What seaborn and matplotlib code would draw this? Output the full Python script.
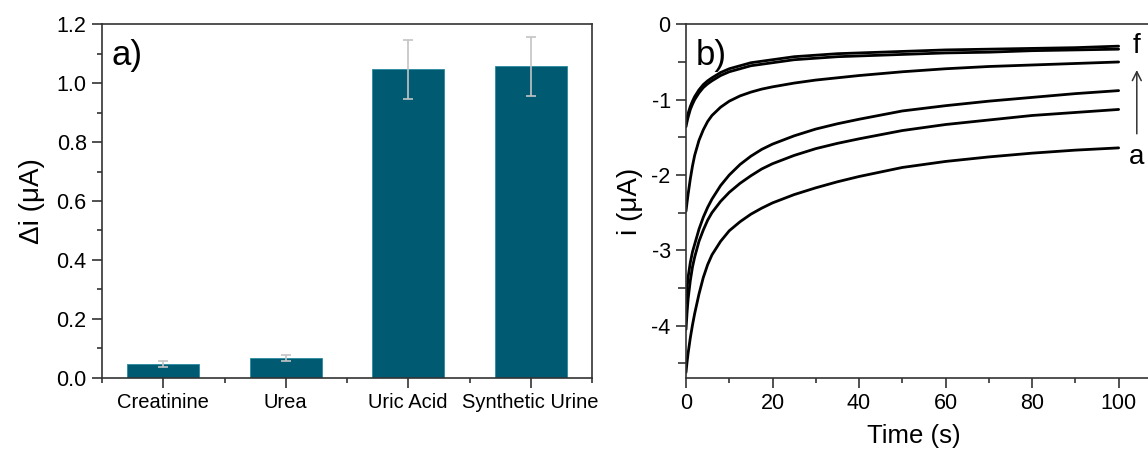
import numpy as np
import pandas as pd
import matplotlib
matplotlib.use("Agg")
import matplotlib.pyplot as plt
from matplotlib.ticker import MultipleLocator, FixedLocator
import seaborn as sns

# ---------------- data ----------------
categories = ["Creatinine", "Urea", "Uric Acid", "Synthetic Urine"]
delta_i = [0.048, 0.067, 1.048, 1.058]
delta_err = [0.010, 0.010, 0.100, 0.100]

time_s = [0, 0.25, 0.5, 1, 1.5, 2, 3, 4, 5, 6, 8, 10, 12.5, 15, 17.5, 20,
          25, 30, 35, 40, 50, 60, 70, 80, 90, 100]
curve_a = [-4.62, -4.48, -4.36, -4.16, -3.99, -3.84, -3.58, -3.36, -3.19, -3.06,
           -2.88, -2.74, -2.62, -2.52, -2.44, -2.37, -2.26, -2.17, -2.09, -2.02,
           -1.90, -1.82, -1.76, -1.71, -1.67, -1.64]
curve_b = [-4.05, -3.82, -3.64, -3.40, -3.22, -3.09, -2.88, -2.73, -2.60, -2.50,
           -2.35, -2.23, -2.11, -2.01, -1.92, -1.85, -1.74, -1.65, -1.58, -1.52,
           -1.41, -1.33, -1.27, -1.21, -1.17, -1.13]
curve_c = [-3.70, -3.50, -3.35, -3.16, -3.02, -2.92, -2.72, -2.56, -2.43, -2.32,
           -2.14, -2.00, -1.86, -1.75, -1.66, -1.59, -1.48, -1.39, -1.32, -1.26,
           -1.15, -1.08, -1.02, -0.97, -0.92, -0.88]
curve_d = [-2.48, -2.36, -2.25, -2.05, -1.88, -1.74, -1.54, -1.40, -1.29, -1.21,
           -1.10, -1.02, -0.95, -0.90, -0.86, -0.83, -0.78, -0.74, -0.71, -0.68,
           -0.63, -0.59, -0.56, -0.54, -0.52, -0.50]
curve_e = [-1.36, -1.29, -1.23, -1.13, -1.06, -1.00, -0.91, -0.84, -0.79, -0.75,
           -0.68, -0.63, -0.59, -0.55, -0.53, -0.51, -0.47, -0.45, -0.43, -0.42,
           -0.40, -0.38, -0.37, -0.35, -0.34, -0.33]
curve_f = [-1.30, -1.24, -1.18, -1.09, -1.02, -0.96, -0.87, -0.80, -0.75, -0.71,
           -0.64, -0.59, -0.55, -0.51, -0.49, -0.47, -0.43, -0.41, -0.39, -0.38,
           -0.36, -0.34, -0.33, -0.32, -0.31, -0.29]
curve_names = ["a", "b", "c", "d", "e", "f"]

# ---------------- style ----------------
sns.set_theme(style="ticks")
plt.rcParams["font.family"] = ["Liberation Sans", "DejaVu Sans"]
plt.rcParams["axes.edgecolor"] = "#333333"
plt.rcParams["axes.linewidth"] = 1.2
plt.rcParams["text.color"] = "black"
plt.rcParams["axes.labelcolor"] = "black"
plt.rcParams["xtick.color"] = "#333333"
plt.rcParams["ytick.color"] = "#333333"
plt.rcParams["xtick.labelcolor"] = "black"
plt.rcParams["ytick.labelcolor"] = "black"

W, H = 1148, 450
fig = plt.figure(figsize=(W / 100, H / 100), dpi=100)

def rect(x0, y0, x1, y1):
    return [x0 / W, 1 - y1 / H, (x1 - x0) / W, (y1 - y0) / H]

ax1 = fig.add_axes(rect(102, 24.3, 592, 377.7))
ax2 = fig.add_axes(rect(686, 24.3, 686 + 475.9, 377.7))

# ---------------- panel a ----------------
bar_df = pd.DataFrame({"cat": categories, "val": delta_i})
sns.barplot(data=bar_df, x="cat", y="val", order=categories, color="#005a72",
            saturation=1, width=0.59, edgecolor="#2a8aa0", linewidth=0.6, ax=ax1)
ax1.errorbar(np.arange(len(categories)), delta_i, yerr=delta_err, fmt="none",
             ecolor="#c4c4c4", elinewidth=1.2, capsize=3.5, capthick=1.2, zorder=5)
ax1.set_xlim(-0.5, 3.5)
ax1.set_ylim(0, 1.2)
ax1.yaxis.set_minor_locator(MultipleLocator(0.1))
ax1.xaxis.set_minor_locator(FixedLocator([-0.5, 0.5, 1.5, 2.5, 3.5]))
ax1.set_yticks(np.arange(0, 1.21, 0.2))
ax1.set_yticklabels([f"{v:.1f}" for v in np.arange(0, 1.21, 0.2)])
ax1.tick_params(axis="both", which="major", direction="out", length=7, width=1.2, pad=4)
ax1.tick_params(axis="both", which="minor", direction="out", length=3.5, width=1.2)
ax1.tick_params(axis="y", labelsize=15.5)
ax1.tick_params(axis="x", labelsize=14.5)
ax1.set_xlabel("")
ax1.set_ylabel("\u0394i (\u03bcA)", fontsize=20, labelpad=8)
ax1.text(0.02, 0.885, "a)", transform=ax1.transAxes, fontsize=25, ha="left", va="baseline")
for s in ax1.spines.values():
    s.set_visible(True)

# ---------------- panel b ----------------
curves = [curve_a, curve_b, curve_c, curve_d, curve_e, curve_f]
long_df = pd.DataFrame({
    "t": np.tile(time_s, len(curves)),
    "i": np.concatenate(curves),
    "curve": np.repeat(curve_names, len(time_s)),
})
sns.lineplot(data=long_df, x="t", y="i", hue="curve", units="curve", estimator=None,
             palette=["black"] * len(curves), linewidth=2.0, legend=False, ax=ax2)
ax2.set_xlim(0, 110)
ax2.set_ylim(-4.69, 0)
ax2.xaxis.set_major_locator(FixedLocator([0, 20, 40, 60, 80, 100]))
ax2.xaxis.set_minor_locator(FixedLocator([10, 30, 50, 70, 90]))
ax2.yaxis.set_minor_locator(MultipleLocator(0.5))
ax2.set_yticks([0, -1, -2, -3, -4])
ax2.set_yticklabels(["0", "-1", "-2", "-3", "-4"])
ax2.tick_params(axis="both", which="major", direction="out", length=7, width=1.2,
                pad=4, labelsize=15.5)
ax2.tick_params(axis="x", which="minor", direction="out", length=3.5, width=1.2)
ax2.tick_params(axis="y", which="minor", direction="out", length=5.5, width=1.2)
ax2.set_xlabel("Time (s)", fontsize=18.5)
ax2.xaxis.set_label_coords(0.479, -0.131)
ax2.xaxis.label.set_va("top")
ax2.set_ylabel("i (\u03bcA)", fontsize=20, labelpad=6)
ax2.text(0.02, 0.885, "b)", transform=ax2.transAxes, fontsize=25, ha="left", va="baseline")

x_lab = time_s[-1] + 4.2
ax2.text(x_lab, curve_f[-1], "f", fontsize=20, ha="center", va="center")
ax2.text(x_lab, curve_a[-1] - 0.12, "a", fontsize=20, ha="center", va="center")
ax2.annotate("", xy=(x_lab, curve_f[-1] - 0.28), xytext=(x_lab, curve_a[-1] + 0.15),
             arrowprops=dict(arrowstyle="->", color="#333333", lw=1.1,
                             mutation_scale=16))

fig.savefig("out.png", dpi=100)
